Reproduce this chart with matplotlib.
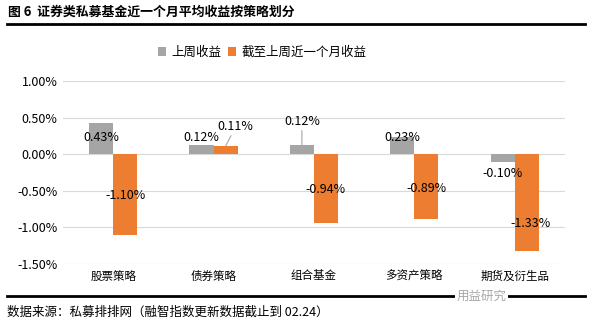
import numpy as np
import matplotlib.pyplot as plt

plt.rcParams['font.family'] = ['Noto Sans CJK SC', 'DejaVu Sans']
plt.rcParams['axes.unicode_minus'] = False

categories = ['股票策略', '债券策略', '组合基金', '多资产策略', '期货及衍生品']
last_week = [0.43, 0.12, 0.12, 0.23, -0.10]
last_month = [-1.10, 0.11, -0.94, -0.89, -1.33]
# 数据标签位置 (y, 数据单位) 与横向偏移 (点)
label_y_week = [0.23, 0.23, 0.45, 0.23, -0.26]
label_y_month = [-0.56, 0.38, -0.48, -0.47, -0.95]
label_dx_month = [0, 7, 0, 0, 3]
leader_week = [False, False, True, False, False]
leader_month = [False, True, False, False, False]

gray = '#A5A5A5'
orange = '#ED7D31'

fig = plt.figure(figsize=(5.89, 3.27), dpi=100)
ax = fig.add_axes([0.107, 0.193, 0.852, 0.559])

x = np.arange(len(categories))
w = 0.24
b1 = ax.bar(x - w / 2, last_week, w, color=gray, label='上周收益', zorder=3)
b2 = ax.bar(x + w / 2, last_month, w, color=orange, label='截至上周近一个月收益', zorder=3)

for i in range(len(x)):
    xp = x[i] - w / 2
    ap = dict(arrowstyle='-', color='#A6A6A6', lw=0.8, shrinkA=0, shrinkB=0) if leader_week[i] else None
    ax.annotate('%.2f%%' % last_week[i], xy=(xp, last_week[i]), xytext=(xp, label_y_week[i]),
                ha='center', va='center', fontsize=9, arrowprops=ap, zorder=4)
    xp = x[i] + w / 2
    ap = dict(arrowstyle='-', color='#A6A6A6', lw=0.8, shrinkA=0, shrinkB=0) if leader_month[i] else None
    ax.annotate('%.2f%%' % last_month[i], xy=(xp, last_month[i]),
                xytext=(xp + label_dx_month[i] * 0.0143, label_y_month[i]),
                ha='center', va='center', fontsize=9, arrowprops=ap, zorder=4)

ax.set_xlim(-0.5, len(x) - 0.5)
ax.set_ylim(-1.5, 1.0)
ax.set_yticks(np.arange(-1.5, 1.01, 0.5))
ax.set_yticklabels(['%.2f%%' % v for v in np.arange(-1.5, 1.01, 0.5)], fontsize=9)
ax.set_xticks(x)
ax.set_xticklabels(categories, fontsize=8.3)
ax.tick_params(length=0, pad=4)
ax.grid(axis='y', color='#D9D9D9', lw=0.8, zorder=0)
for s in ax.spines.values():
    s.set_visible(False)

fig.legend(handles=[b1, b2], loc='center', bbox_to_anchor=(0.445, 0.84), ncol=2, frameon=False,
           fontsize=9, handlelength=0.7, handleheight=0.7, handletextpad=0.4, columnspacing=0.5)

fig.text(0.014, 0.963, '图 6  证券类私募基金近一个月平均收益按策略划分', fontsize=9.3,
         fontweight='bold', va='center', ha='left')
fig.add_artist(plt.Line2D([0.012, 0.993], [0.927, 0.927], color='black', lw=2))
fig.add_artist(plt.Line2D([0.012, 0.993], [0.095, 0.095], color='black', lw=2))
fig.text(0.775, 0.095, '用益研究', fontsize=9, color='#A8A8A8', va='center', ha='left',
         bbox=dict(facecolor='white', edgecolor='none', pad=1))
fig.text(0.012, 0.046, '数据来源：私募排排网（融智指数更新数据截止到 02.24）', fontsize=9,
         va='center', ha='left')

fig.savefig('out.png', dpi=100)
